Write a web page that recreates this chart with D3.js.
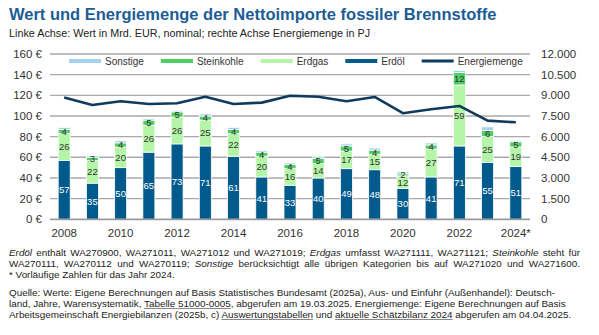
<!DOCTYPE html>
<html>
<head>
<meta charset="utf-8">
<script src="https://cdn.jsdelivr.net/npm/d3@7"></script>
<style>
  body { margin: 0; background: #fff; font-family: "Liberation Sans", Arial, sans-serif; }
  #wrap { position: relative; width: 599px; height: 335px; overflow: hidden; }
  svg { position: absolute; left: 0; top: 0; }
  .note { position: absolute; left: 9px; width: 571px; font-size: 9.9px; line-height: 11px; color: #222; white-space: nowrap; }
  .note div { height: 11px; }
  .just { text-align: justify; text-align-last: justify; }
  .note u { text-decoration-color: #888; }
</style>
</head>
<body>
<div id="wrap">
  <svg id="chart" width="599" height="335"></svg>
  <div class="note" style="top:247px">
    <div class="just"><i>Erdöl</i> enthält WA270900, WA271011, WA271012 und WA271019; <i>Erdgas</i> umfasst WA271111, WA271121; <i>Steinkohle</i> steht für</div>
    <div class="just">WA270111, WA270112 und WA270119; <i>Sonstige</i> berücksichtigt alle übrigen Kategorien bis auf WA271020 und WA271600.</div>
    <div>* Vorläufige Zahlen für das Jahr 2024.</div>
  </div>
  <div class="note" style="top:287px">
    <div>Quelle: Werte: Eigene Berechnungen auf Basis Statistisches Bundesamt (2025a), Aus- und Einfuhr (Außenhandel): Deutsch-</div>
    <div>land, Jahre, Warensystematik, <u>Tabelle 51000-0005</u>, abgerufen am 19.03.2025. Energiemenge: Eigene Berechnungen auf Basis</div>
    <div>Arbeitsgemeinschaft Energiebilanzen (2025b, c) <u>Auswertungstabellen</u> und <u>aktuelle Schätzbilanz 2024</u> abgerufen am 04.04.2025.</div>
  </div>
</div>
<script>
var years = ['2008','2009','2010','2011','2012','2013','2014','2015','2016','2017','2018','2019','2020','2021','2022','2023','2024*']
var erdoel     = [57, 35, 50, 65, 73, 71, 61, 41, 33, 40, 49, 48, 30, 41, 71, 55, 51]
var erdgas     = [26, 22, 20, 26, 26, 25, 22, 20, 16, 14, 17, 15, 12, 27, 59, 25, 19]
var steinkohle = [4, 3, 4, 5, 5, 4, 4, 4, 4, 5, 5, 4, 2, 4, 12, 6, 5]
var sonstige   = [2, 1.5, 2, 1.5, 1.5, 2, 2, 1.5, 1.5, 1.5, 2, 2, 2, 2, 2, 3.5, 1.5]
var energie    = [8850, 8300, 8570, 8370, 8420, 8900, 8370, 8470, 8970, 8900, 8570, 8880, 7700, 7990, 8230, 7160, 7040]
var leftTicks  = [0, 20, 40, 60, 80, 100, 120, 140, 160]
var rightTicks = [0, 1500, 3000, 4500, 6000, 7500, 9000, 10500, 12000]
var xLabels    = ['2008','2010','2012','2014','2016','2018','2020','2022','2024*']

var keys = ['erdoel', 'erdgas', 'steinkohle', 'sonstige']
var names = {erdoel: 'Erdöl', erdgas: 'Erdgas', steinkohle: 'Steinkohle', sonstige: 'Sonstige'}
var colors = {erdoel: '#005a8c', erdgas: '#b5f5a8', steinkohle: '#4fcf63', sonstige: '#a4d2ee'}
var lineColor = '#103b5c'

var rows = years.map(function(y, i){
  return {year: y, erdoel: erdoel[i], erdgas: erdgas[i], steinkohle: steinkohle[i], sonstige: sonstige[i], energie: energie[i]}
})

var svg = d3.select('#chart')
var pLeft = 50, pRight = 530, pTop = 54, pBottom = 219.3

var x = d3.scaleBand().domain(years).range([pLeft, pRight]).paddingInner(0.575).paddingOuter(0.29)
var y = d3.scaleLinear().domain([0, 160]).range([pBottom, pTop])
var y2 = d3.scaleLinear().domain([0, 12000]).range([pBottom, pTop])
var de = d3.formatLocale({decimal: ',', thousands: '.', grouping: [3], currency: ['', ' €']})

// title
svg.append('text').attr('x', 9).attr('y', 20)
  .style('font-size', '16.5px').style('font-weight', 'bold').style('fill', '#1d5c95')
  .text('Wert und Energiemenge der Nettoimporte fossiler Brennstoffe')
svg.append('text').attr('x', 9).attr('y', 37)
  .style('font-size', '10.8px').style('fill', '#222')
  .text('Linke Achse: Wert in Mrd. EUR, nominal; rechte Achse Energiemenge in PJ')

// grid
svg.append('g').selectAll('line').data(leftTicks.slice(1)).join('line')
  .attr('x1', pLeft).attr('x2', pRight)
  .attr('y1', function(d){ return y(d) }).attr('y2', function(d){ return y(d) })
  .attr('stroke', '#a9a9a9').attr('stroke-width', 1.4)

// left axis labels
svg.append('g').selectAll('text').data(leftTicks).join('text')
  .attr('x', 42).attr('y', function(d){ return y(d) }).attr('dy', '0.35em')
  .attr('text-anchor', 'end').style('font-size', '11.5px').style('fill', '#333')
  .text(function(d){ return d + ' €' })

// right axis labels
svg.append('g').selectAll('text').data(rightTicks).join('text')
  .attr('x', 541).attr('y', function(d){ return y2(d) }).attr('dy', '0.35em')
  .style('font-size', '11.5px').style('fill', '#333')
  .text(function(d){ return de.format(',')(d) })

// bars
var series = d3.stack().keys(keys)(rows)
var groups = svg.append('g').selectAll('g').data(series).join('g')
  .attr('fill', function(s){ return colors[s.key] })
groups.selectAll('rect').data(function(s){ return s }).join('rect')
  .attr('x', function(d){ return x(d.data.year) })
  .attr('width', x.bandwidth())
  .attr('y', function(d){ return y(d[1]) })
  .attr('height', function(d){ return y(d[0]) - y(d[1]) })
  .attr('stroke', '#fff').attr('stroke-width', 0.8)

// base line
svg.append('line').attr('x1', pLeft).attr('x2', pRight).attr('y1', pBottom).attr('y2', pBottom)
  .attr('stroke', '#9a9a9a').attr('stroke-width', 1.8)

// bar labels
series.filter(function(s){ return s.key != 'sonstige' }).forEach(function(s){
  svg.append('g').selectAll('text').data(s).join('text')
    .attr('x', function(d){ return x(d.data.year) + x.bandwidth() / 2 })
    .attr('y', function(d){ return y((d[0] + d[1]) / 2) })
    .attr('dy', '0.36em').attr('text-anchor', 'middle')
    .style('font-size', '9.5px')
    .style('fill', s.key == 'erdoel' ? '#fff' : '#333')
    .text(function(d){ return d.data[s.key] })
})

// energy line
var line = d3.line()
  .x(function(d){ return x(d.year) + x.bandwidth() / 2 })
  .y(function(d){ return y2(d.energie) })
svg.append('path').attr('d', line(rows))
  .attr('fill', 'none').attr('stroke', lineColor).attr('stroke-width', 2.6)
  .attr('stroke-linejoin', 'round')

// x labels
svg.append('g').selectAll('text').data(xLabels).join('text')
  .attr('x', function(d){ return x(d) + x.bandwidth() / 2 })
  .attr('y', 237).attr('text-anchor', 'middle')
  .style('font-size', '11.5px').style('fill', '#333')
  .text(function(d){ return d })

// legend
var legendItems = [
  {name: names.sonstige, color: colors.sonstige, h: 4},
  {name: names.steinkohle, color: colors.steinkohle, h: 4},
  {name: names.erdgas, color: colors.erdgas, h: 4},
  {name: names.erdoel, color: colors.erdoel, h: 4},
  {name: 'Energiemenge', color: lineColor, h: 3}
]
var lx = 69, ly = 61
legendItems.forEach(function(it){
  svg.append('rect').attr('x', lx).attr('y', ly - it.h / 2).attr('width', 32).attr('height', it.h)
    .attr('fill', it.color)
  var t = svg.append('text').attr('x', lx + 36).attr('y', ly).attr('dy', '0.35em')
    .style('font-size', '10px').style('fill', '#333').text(it.name)
  lx = lx + 36 + t.node().getComputedTextLength() + 17
})
</script>
</body>
</html>
